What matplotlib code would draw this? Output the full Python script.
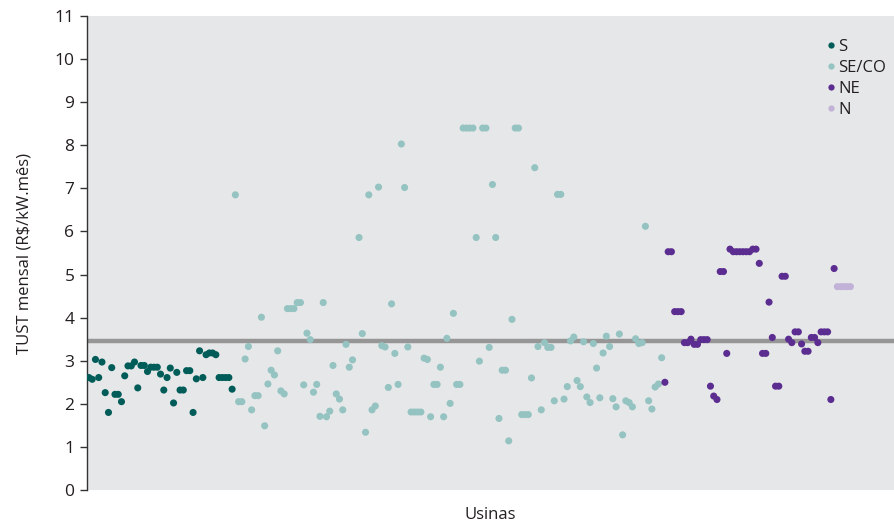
import matplotlib.pyplot as plt
from matplotlib.lines import Line2D

plt.rcParams["font.family"] = ["Open Sans", "DejaVu Sans"]

# S region
s_idx = list(range(1, 46))
s_val = [2.61, 2.57, 3.03, 2.61, 2.97, 2.26, 1.80, 2.84, 2.22, 2.22,
         2.05, 2.65, 2.88, 2.88, 2.97, 2.37, 2.89, 2.89, 2.75, 2.85,
         2.85, 2.85, 2.69, 2.32, 2.61, 2.83, 2.02, 2.73, 2.32, 2.32,
         2.77, 2.77, 1.80, 2.58, 3.23, 2.61, 3.14, 3.18, 3.18, 3.14,
         2.61, 2.61, 2.61, 2.61, 2.34]

# SE/CO region
seco_idx = list(range(46, 83)) + list(range(84, 178))
seco_val = [6.85, 2.05, 2.05, 3.04, 3.33, 1.86, 2.19, 2.19, 4.01, 1.49,
            2.46, 2.78, 2.67, 3.23, 2.30, 2.23, 4.21, 4.21, 4.21, 4.35,
            4.35, 2.44, 3.64, 3.49, 2.27, 2.45, 1.71, 4.35, 1.70, 1.83,
            2.89, 2.23, 2.11, 1.86, 3.38, 2.85, 3.02,
            5.86, 3.63, 1.34, 6.85, 1.86, 1.95, 7.03, 3.35, 3.32, 2.38,
            4.32, 3.17, 2.45, 8.03, 7.02, 3.32, 1.81, 1.81, 1.81, 1.81,
            3.06, 3.03, 1.70, 2.45, 2.45, 2.85, 1.70, 3.52, 2.01, 4.10,
            2.45, 2.45, 8.40, 8.40, 8.40, 8.40, 5.86, 2.99, 8.40, 8.40,
            3.31, 7.09, 5.86, 1.66, 2.78, 2.78, 1.14, 3.96, 8.40, 8.40,
            1.75, 1.75, 1.75, 2.60, 7.48, 3.33, 1.86, 3.42, 3.31, 3.31,
            2.07, 6.86, 6.86, 2.11, 2.40, 3.46, 3.55, 2.54, 2.40, 3.44,
            2.16, 2.03, 3.40, 2.83, 2.14, 3.18, 3.57, 3.33, 2.12, 1.93,
            3.62, 1.28, 2.07, 2.03, 1.93, 3.51, 3.40, 3.42, 6.12, 2.07,
            1.88, 2.39, 2.46, 3.07]

# NE region
ne_idx = list(range(178, 231))
ne_val = [2.50, 5.53, 5.53, 4.14, 4.14, 4.14, 3.42, 3.42, 3.50, 3.38,
          3.38, 3.49, 3.49, 3.49, 2.41, 2.18, 2.10, 5.07, 5.07, 3.17,
          5.59, 5.53, 5.53, 5.53, 5.53, 5.53, 5.53, 5.59, 5.59, 5.26,
          3.17, 3.17, 4.36, 3.54, 2.41, 2.41, 4.96, 4.96, 3.50, 3.42,
          3.67, 3.67, 3.39, 3.22, 3.22, 3.54, 3.54, 3.42, 3.67, 3.67,
          3.67, 2.10, 5.14]

# N region
n_idx = list(range(231, 236))
n_val = [4.72, 4.72, 4.72, 4.72, 4.72]

reference = 3.46

groups = [("S", s_idx, s_val, "#005c58"),
          ("SE/CO", seco_idx, seco_val, "#94c3c1"),
          ("NE", ne_idx, ne_val, "#5c2d91"),
          ("N", n_idx, n_val, "#c2b2d8")]

fig = plt.figure(figsize=(8.94, 5.27), dpi=100)
ax = fig.add_axes([0.0973, 0.0702, 0.9027, 0.8994])
ax.set_facecolor("#e6e7e8")

ax.axhline(reference, color="#969696", linewidth=3.2, zorder=1)

for name, xs, ys, color in groups:
    ax.scatter(xs, ys, s=26, color=color, edgecolors="none", zorder=3)

ax.set_xlim(0.4, 248.4)
ax.set_ylim(0, 11)
ax.set_yticks(range(0, 12))
ax.set_xticks([])
ax.tick_params(axis="y", direction="out", length=5, width=1,
               color="#333333", labelsize=12.5, labelcolor="#231f20", pad=4)
for side in ("top", "right", "bottom"):
    ax.spines[side].set_visible(False)
ax.spines["left"].set_color("#333333")
ax.spines["left"].set_linewidth(1)

ax.set_ylabel("TUST mensal (R$/kW.mês)", fontsize=12, color="#231f20",
              labelpad=16)
ax.set_xlabel("Usinas", fontsize=12, color="#231f20", labelpad=12)

handles = [Line2D([], [], marker="o", linestyle="none", markersize=4.5,
                  markerfacecolor=c, markeredgecolor="none", label=n)
           for n, _, _, c in groups]
leg = ax.legend(handles=handles, loc="upper left",
                bbox_to_anchor=(0.907, 0.97), frameon=False,
                fontsize=12, handlelength=0.4, handletextpad=0.25,
                labelspacing=0.3, borderpad=0)
for t in leg.get_texts():
    t.set_color("#231f20")

fig.savefig("out.png", dpi=100, facecolor="white")
